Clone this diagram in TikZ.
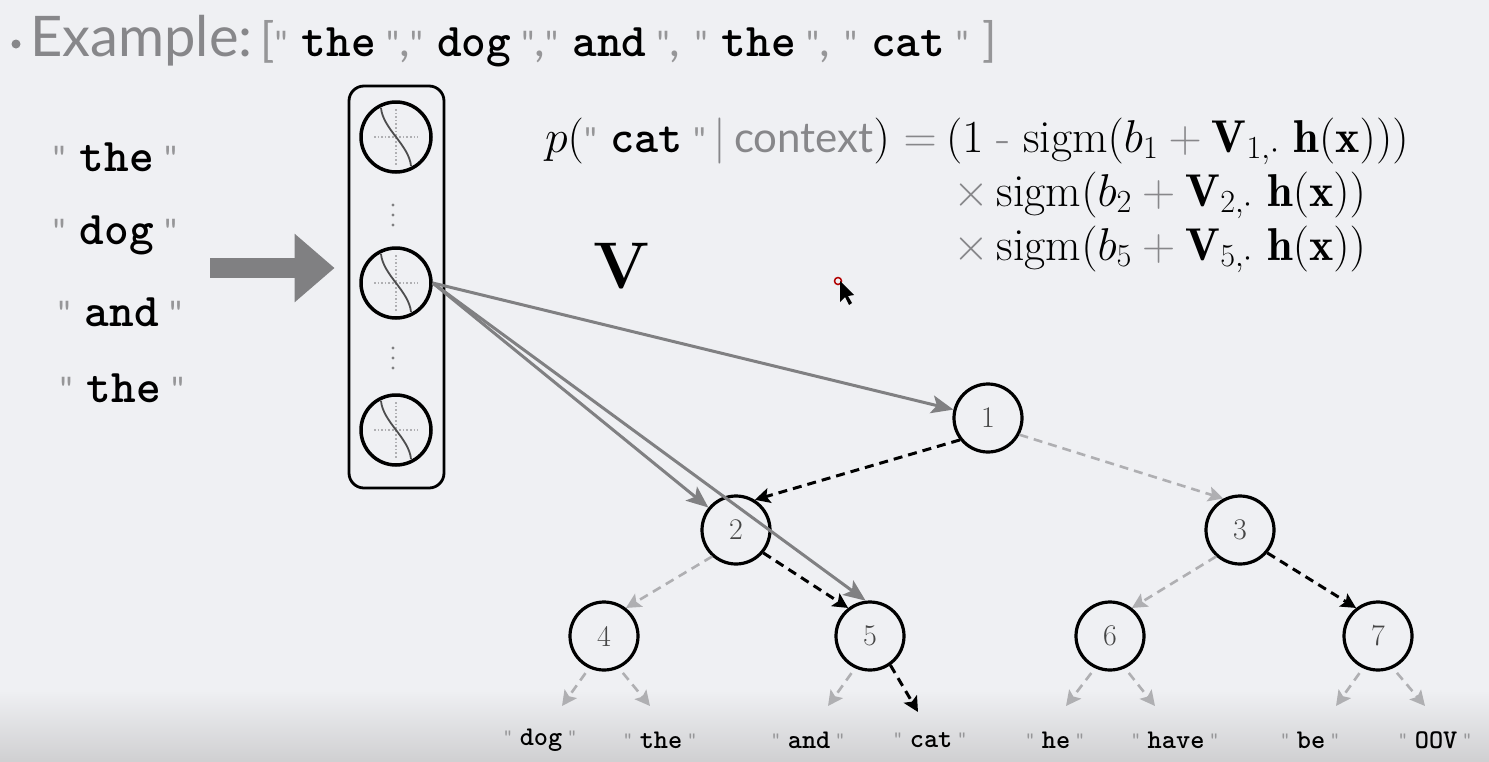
\RequirePackage{fix-cm}
\documentclass[tikz,border=0pt]{standalone}
\usepackage{fontspec}
\newfontfamily\gill{Lato}
\usetikzlibrary{arrows.meta}
\definecolor{bg}{RGB}{239,240,243}
\definecolor{bgdark}{RGB}{208,208,210}
\definecolor{tgray}{RGB}{135,135,138}
\definecolor{qgray}{RGB}{150,150,152}
\definecolor{vgray}{RGB}{128,128,130}
\definecolor{lgray}{RGB}{175,175,178}
\definecolor{numgray}{RGB}{70,70,70}
\newcommand{\qm}{{\gill\color{qgray}\scalebox{0.75}{"}}}
\newcommand{\tw}[1]{{\ttfamily\bfseries #1}}
\newcommand{\qw}[1]{\qm\hspace{0.3em}\tw{#1}\hspace{0.22em}\qm}
\newcommand{\gp}{\mathbin{\color{tgray}+}}
\newcommand{\sigicon}[1]{%
  \begin{scope}[shift={(#1)}]
    \draw[lgray, line width=1.6pt, dotted] (0,-28) -- (0,28);
    \draw[lgray, line width=1.6pt, dotted] (-22,0) -- (22,0);
    \draw[vgray!60!black, line width=1.8pt] (-15,-29) .. controls (-13,-8) and (13,8) .. (15,29);
  \end{scope}}
\begin{document}
\begin{tikzpicture}[x=1pt,y=-1pt,
  hid/.style={circle, draw, line width=3.5pt, minimum size=70pt, inner sep=0pt},
  tnode/.style={circle, draw, line width=3.2pt, minimum size=68pt, inner sep=0pt,
     text=numgray, font=\fontsize{30}{32}\selectfont},
  lword/.style={font=\fontsize{47}{50}\selectfont, inner sep=0pt},
  leaf/.style={font=\fontsize{27}{29}\selectfont, inner sep=0pt},
  vec/.style={vgray, line width=3pt, -{Stealth[length=22pt,width=18pt,inset=5pt]}},
  blk/.style={black, line width=3pt, dash pattern=on 9pt off 6pt, -{Stealth[length=15pt,width=15pt,inset=3pt]}},
  gry/.style={lgray, line width=2.6pt, dash pattern=on 9pt off 6pt, -{Stealth[length=15pt,width=15pt,inset=3pt]}},
  fml/.style={font=\fontsize{46}{49}\selectfont, inner sep=0pt}]
\useasboundingbox (0,0) rectangle (1489,761);
\fill[bg] (0,0) rectangle (1489,761);
\shade[top color=bg, bottom color=bgdark] (0,690) rectangle (1489,761);

% title
\fill[tgray] (16,44) circle (4.5pt);
\node[anchor=base west, inner sep=0pt, font=\fontsize{47}{50}\selectfont] (title) at (30,56)
  {{\gill\color{tgray}\fontsize{56}{58}\selectfont Example:}\,{\gill\color{qgray}[}\qw{the}{\gill\color{qgray},}\qw{dog}{\gill\color{qgray},}\qw{and}{\gill\color{qgray},} \qw{the}{\gill\color{qgray},} \qw{cat}\ {\gill\color{qgray}]}};

% left words
\node[lword] (w1) at (115,157) {\qw{the}};
\node[lword] (w2) at (115,235) {\qw{dog}};
\node[lword] (w3) at (120,312) {\qw{and}};
\node[lword] (w4) at (122,388) {\qw{the}};

% hidden layer box
\node[draw, rounded corners=15pt, line width=2.8pt, minimum width=95pt, minimum height=402pt, inner sep=0pt] (box) at (396.5,287) {};
\node[hid] (h1) at (396,137) {};
\node[hid] (h2) at (396,283) {};
\node[hid] (h3) at (396,430) {};
\sigicon{h1.center}
\sigicon{h2.center}
\sigicon{h3.center}
\foreach \yy in {205,215,225,348,358,368}
  \fill[vgray] (393,\yy) circle (1.6pt);

% big arrow
\coordinate (bigstart) at (210,268);
\draw[vgray, line width=20pt, -{Triangle[length=40pt,width=66pt]}, shorten >=13pt] (bigstart) -- (bigstart -| box.west);

% V
\node[font=\fontsize{66}{70}\selectfont\bfseries, inner sep=0pt] (V) at (622,266) {V};

% formula
\node[fml, anchor=base east] (f1a) at (937,152) {$p($\qw{cat}$\,{\color{tgray}|}\,${\gill\color{tgray}\fontsize{42}{44}\selectfont context}$)$ {\color{tgray}$=$}};
\node[fml, anchor=base west] (f1b) at (946,152) {$(1\;{\color{tgray}\mbox{-}}\;\mathrm{sigm}(b_1 \gp \mathbf{V}_{1,\cdot}\ \mathbf{h}(\mathbf{x})))$};
\node[fml, anchor=base west] (f2) at (953,206) {${\color{tgray}\times}\,\mathrm{sigm}(b_2 \gp \mathbf{V}_{2,\cdot}\ \mathbf{h}(\mathbf{x}))$};
\node[fml, anchor=base west] (f3) at (953,260) {${\color{tgray}\times}\,\mathrm{sigm}(b_5 \gp \mathbf{V}_{5,\cdot}\ \mathbf{h}(\mathbf{x}))$};

% tree
\node[tnode] (n1) at (988,418) {1};
\node[tnode] (n2) at (736,530) {2};
\node[tnode] (n3) at (1240,530) {3};
\node[tnode] (n4) at (604,636) {4};
\node[tnode] (n5) at (870,636) {5};
\node[tnode] (n6) at (1110,636) {6};
\node[tnode] (n7) at (1378,636) {7};

% vectors from hidden unit
\draw[vec] (h2.east) -- (n1);
\draw[vec] (h2.east) -- (n2);
\draw[vec] (h2.east) -- (n5.97);

% tree edges
\draw[blk] (n1.218) -- (n2.58);
\draw[gry] (n1.-28) -- (n3.118);
\draw[gry] (n2.228) -- (n4.52);
\draw[blk] (n2.-40) -- (n5.128);
\draw[gry] (n3.228) -- (n6.52);
\draw[blk] (n3.-40) -- (n7.128);

% leaves
\node[leaf] (l1) at (540,740) {\qw{dog}};
\node[leaf] (l2) at (660,740) {\qw{the}};
\node[leaf] (l3) at (808,740) {\qw{and}};
\node[leaf] (l4) at (930,740) {\qw{cat}};
\node[leaf] (l5) at (1055,740) {\qw{he}};
\node[leaf] (l6) at (1175,740) {\qw{have}};
\node[leaf] (l7) at (1310,740) {\qw{be}};
\node[leaf] (l8) at (1435,740) {\qw{OOV}};
\coordinate (a1) at (562,706);
\coordinate (a2) at (650,706);
\coordinate (a3) at (828,706);
\coordinate (a4) at (918,712);
\coordinate (a5) at (1066,706);
\coordinate (a6) at (1155,706);
\coordinate (a7) at (1336,706);
\coordinate (a8) at (1425,706);
\draw[gry, shorten <=6pt] (n4.245) -- (a1);
\draw[gry, shorten <=6pt] (n4.295) -- (a2);
\draw[gry, shorten <=6pt] (n5.245) -- (a3);
\draw[blk] (n5.305) -- (a4);
\draw[gry, shorten <=6pt] (n6.245) -- (a5);
\draw[gry, shorten <=6pt] (n6.295) -- (a6);
\draw[gry, shorten <=6pt] (n7.245) -- (a7);
\draw[gry, shorten <=6pt] (n7.295) -- (a8);

% cursor
\draw[red!70!black, line width=1.5pt] (838,281) circle (3.5pt);
\fill[black] (840,281) -- (840,302) -- (845,297) -- (849,305) -- (852,303) -- (848,296) -- (854,295) -- cycle;
\end{tikzpicture}
\end{document}
